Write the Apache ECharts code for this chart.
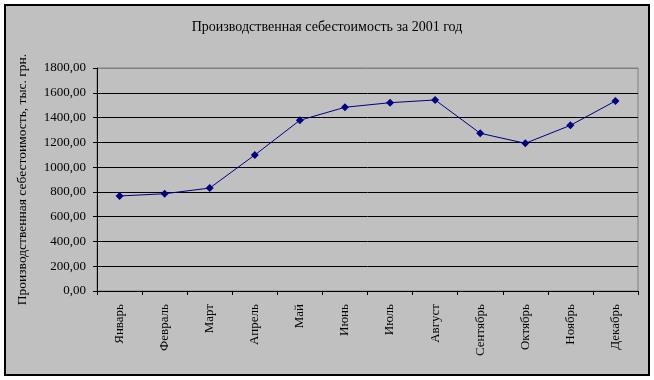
<!DOCTYPE html>
<html><head><meta charset="utf-8">
<script src="https://cdn.jsdelivr.net/npm/echarts@6/dist/echarts.min.js"></script>
<style>html,body{margin:0;padding:0;background:#fff}#c{width:654px;height:380px}</style>
</head><body><div id="c"></div>
<script>
var titleText = 'Производственная себестоимость за 2001 год';
var yAxisName = 'Производственная себестоимость, тыс. грн.';
var months = ['Январь','Февраль','Март','Апрель','Май','Июнь','Июль','Август','Сентябрь','Октябрь','Ноябрь','Декабрь'];
var costs = [767, 785, 831, 1098, 1378, 1483, 1520, 1542, 1273, 1192, 1337, 1534];
var yMin = 0, yMax = 1800, yStep = 200;

var font = '"Liberation Serif", "Times New Roman", serif';
var chart = echarts.init(document.getElementById('c'), null, {renderer: 'canvas'});
var splitColors = [];
for (var v = yMin; v <= yMax; v += yStep) splitColors.push(v === yMax ? '#808080' : '#000000');
chart.setOption({
  animation: false,
  backgroundColor: '#ffffff',
  graphic: [{
    type: 'rect', z: -10, silent: true,
    shape: {x: 5, y: 5, width: 644, height: 370},
    style: {fill: '#c0c0c0', stroke: '#000000', lineWidth: 2}
  }],
  title: {
    text: titleText, left: 'center', top: 15,
    textStyle: {fontFamily: font, fontSize: 14, fontWeight: 'normal', color: '#000'}
  },
  grid: {left: 97, top: 68, width: 541, height: 223, show: true, borderColor: '#808080', borderWidth: 1, backgroundColor: 'transparent'},
  xAxis: {
    type: 'category', data: months, boundaryGap: true,
    axisLine: {lineStyle: {color: '#000', width: 1}},
    axisTick: {show: true, length: 4, alignWithLabel: false, lineStyle: {color: '#000'}},
    axisLabel: {rotate: 90, margin: 13, interval: 0, fontFamily: font, fontSize: 13, color: '#000'}
  },
  yAxis: {
    type: 'value', min: yMin, max: yMax, interval: yStep,
    name: yAxisName, nameLocation: 'middle', nameGap: 68, nameRotate: 90,
    nameTextStyle: {fontFamily: font, fontSize: 13.5, color: '#000'},
    axisLine: {show: true, lineStyle: {color: '#000', width: 1}},
    axisTick: {show: true, length: 4, lineStyle: {color: '#000'}},
    splitLine: {show: true, lineStyle: {color: splitColors, width: 1}},
    axisLabel: {margin: 11, fontFamily: font, fontSize: 13, color: '#000',
      formatter: function (v) { return v.toFixed(2).replace('.', ','); }}
  },
  series: [{
    type: 'line', data: costs,
    symbol: 'diamond', symbolSize: 8,
    lineStyle: {color: '#000080', width: 1},
    itemStyle: {color: '#000080'}
  }]
});
</script></body></html>
